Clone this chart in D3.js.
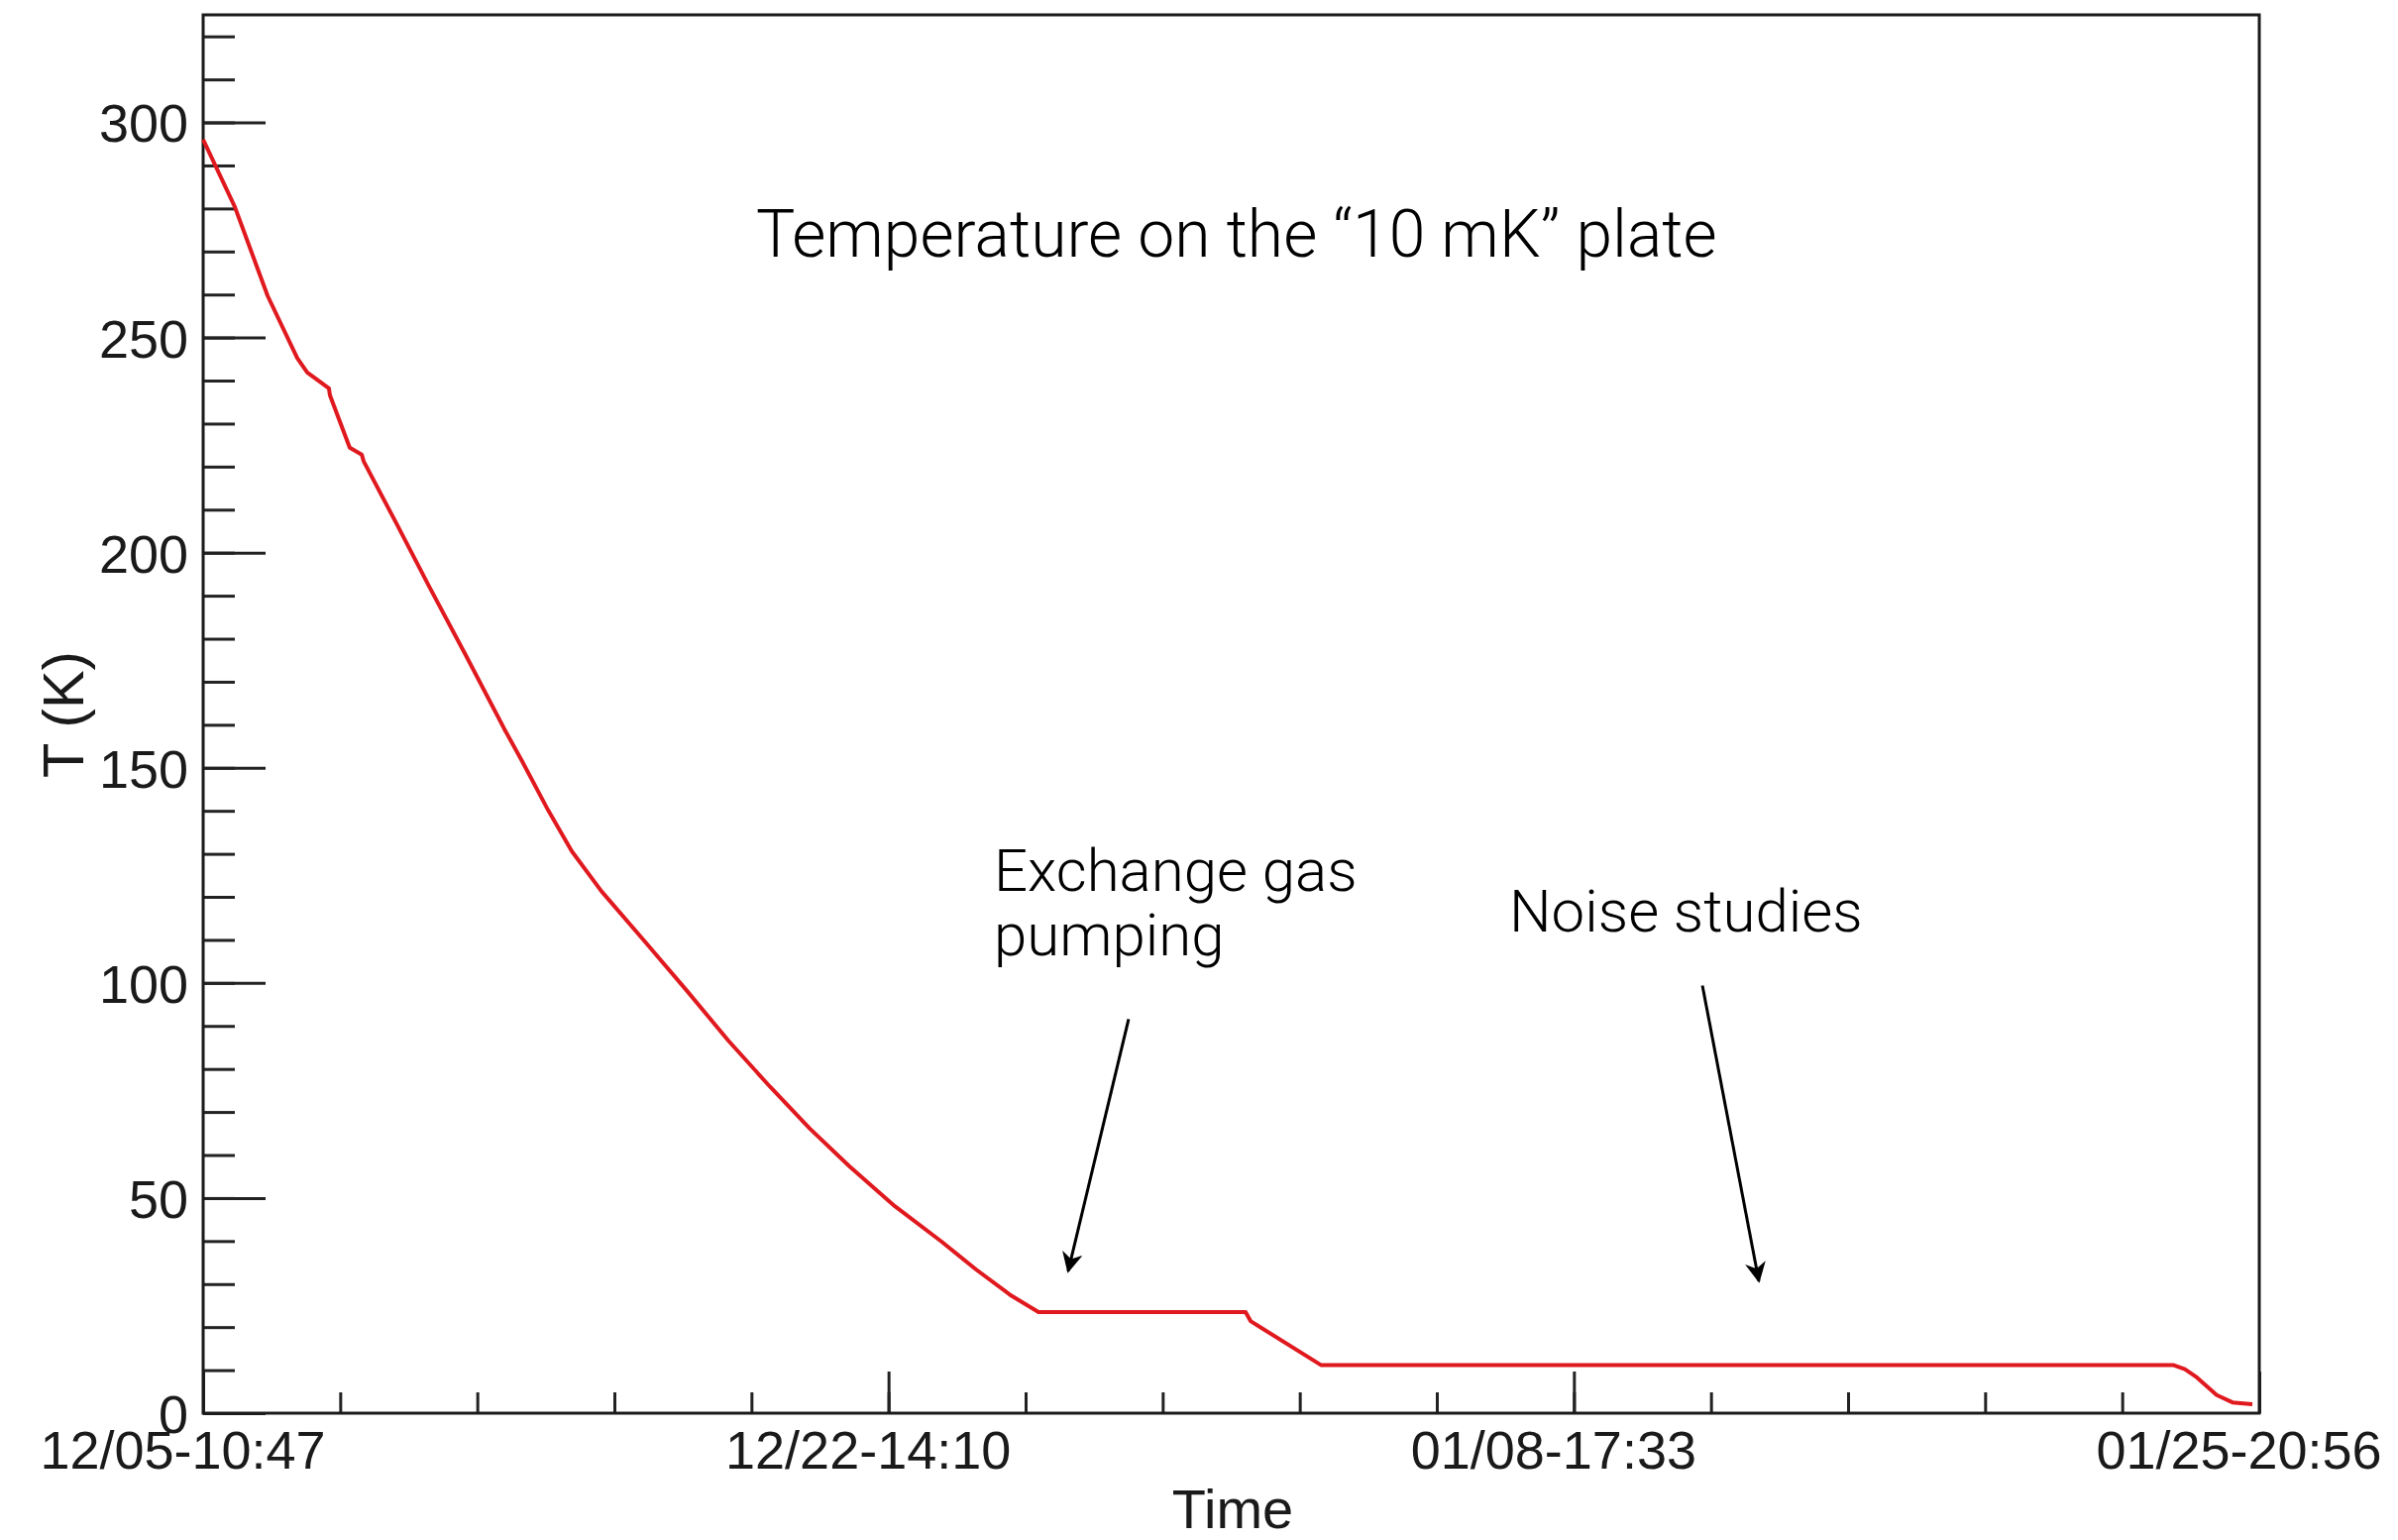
<!DOCTYPE html>
<html>
<head>
<meta charset="utf-8">
<script src="https://cdn.jsdelivr.net/npm/d3@7"></script>
<style>
  body { margin: 0; background: #fff; }
  text { font-family: "Liberation Sans", Arial, sans-serif; fill: #1a1a1a; }
  .note { font-family: Roboto, "Open Sans", sans-serif; font-weight: 300; fill: #000; }
</style>
</head>
<body>
<svg id="chart" width="2420" height="1554"></svg>
<script>
// start of the run, hours elapsed since then, plate temperature in K
const startTime = new Date(2014, 11, 5, 10, 47)
const hoursElapsed = [0, 19, 38.7, 56.5, 62.5, 75.5, 76.1, 88, 95.2, 96.4, 116, 135.6, 157.6,
  180.8, 191.5, 207, 221.3, 239.1, 264.7, 290.3, 315.2, 340.2, 364, 387.8, 415.2, 443.1,
  463.9, 484.7, 501.4, 625.7, 628.7, 670.9, 1182.4, 1189.5, 1196.7, 1208.6, 1218.1, 1230]
const tempK = [296, 280.4, 259.7, 245.2, 241.9, 238.2, 236.6, 224.4, 222.8, 221.2, 206.8, 192.2, 176.2,
  159, 151.5, 140.2, 130.6, 121.3, 109.8, 98.2, 86.6, 75.9, 66.2, 57.4, 48.1, 39.9,
  33.4, 27.4, 23.5, 23.5, 21.4, 11.2, 11.2, 10.2, 8.3, 4.2, 2.5, 2.1]

// axis layout: 3 labelled divisions of 17d 3h23m, 5 minor steps each
const majorStepMin = (17 * 24 + 3) * 60 + 23
const nMajor = 3, nMinorPerMajor = 5
const yMajorTicks = [0, 50, 100, 150, 200, 250, 300]
const yMinorTicks = d3.range(0, 330, 10)
const yMax = 325

// annotations (hours, K)
const notes = [
  { lines: ["Exchange gas", "pumping"], h: 474.6, T: 121.3 },
  { lines: ["Noise studies"], h: 783.9, T: 111.9 }
]
const arrows = [
  { h0: 555.5, T0: 91.6, h1: 519.2, T1: 33.0 },
  { h0: 899.9, T0: 99.4, h1: 933.8, T1: 30.7 }
]

const width = 2420, height = 1554
const pLeft = 205, pRight = 2280, pTop = 15, pBottom = 1426

const addH = h => new Date(startTime.getTime() + h * 3600e3)
const endTime = new Date(startTime.getTime() + nMajor * majorStepMin * 60e3)

const x = d3.scaleTime().domain([startTime, endTime]).range([pLeft, pRight])
const y = d3.scaleLinear().domain([0, yMax]).range([pBottom, pTop])

const svg = d3.select("#chart")

const majorX = d3.range(nMajor + 1).map(i => new Date(startTime.getTime() + i * majorStepMin * 60e3))
const minorX = d3.range(nMajor * nMinorPerMajor + 1)
  .map(i => new Date(startTime.getTime() + i * majorStepMin * 60e3 / nMinorPerMajor))

// y axis
svg.append("g")
    .attr("transform", "translate(" + pLeft + ",0)")
    .call(d3.axisLeft(y).tickValues(yMinorTicks.filter(v => v <= yMax)).tickSize(-32).tickFormat(""))
    .call(g => g.select(".domain").remove())
    .selectAll("line").attr("stroke", "#222").attr("stroke-width", 3)

svg.append("g")
    .attr("transform", "translate(" + pLeft + ",0)")
    .call(d3.axisLeft(y).tickValues(yMajorTicks).tickSize(-63).tickPadding(15))
    .call(g => g.select(".domain").remove())
    .call(g => g.selectAll("line").attr("stroke", "#222").attr("stroke-width", 3))
    .call(g => g.selectAll("text")
        .attr("font-size", 54)
        .attr("font-family", "Liberation Sans, Arial, sans-serif")
        .attr("fill", "#222")
        .attr("dy", "0.36em"))

// x axis
svg.append("g")
    .attr("transform", "translate(0," + pBottom + ")")
    .call(d3.axisBottom(x).tickValues(minorX).tickSize(-21).tickFormat(""))
    .call(g => g.select(".domain").remove())
    .selectAll("line").attr("stroke", "#222").attr("stroke-width", 3)

svg.append("g")
    .attr("transform", "translate(0," + pBottom + ")")
    .call(d3.axisBottom(x).tickValues(majorX).tickSize(-42).tickPadding(18)
      .tickFormat(d3.timeFormat("%m/%d-%H:%M")))
    .call(g => g.select(".domain").remove())
    .call(g => g.selectAll("line").attr("stroke", "#222").attr("stroke-width", 3))
    .call(g => g.selectAll("text")
        .attr("font-size", 54)
        .attr("font-family", "Liberation Sans, Arial, sans-serif")
        .attr("fill", "#222")
        .attr("dx", -21))

// frame
svg.append("rect")
    .attr("x", pLeft).attr("y", pTop)
    .attr("width", pRight - pLeft).attr("height", pBottom - pTop)
    .attr("fill", "none").attr("stroke", "#1a1a1a").attr("stroke-width", 3)

// axis titles
svg.append("text")
    .attr("transform", "translate(84,721) rotate(-90)")
    .attr("text-anchor", "middle")
    .attr("font-size", 58)
    .attr("fill", "#222")
    .text("T (K)")

svg.append("text")
    .attr("x", 1244).attr("y", 1542)
    .attr("text-anchor", "middle")
    .attr("font-size", 56)
    .attr("fill", "#222")
    .text("Time")

// temperature curve
const pts = hoursElapsed.map((h, i) => ({ t: addH(h), T: tempK[i] }))
svg.append("path")
    .datum(pts)
    .attr("fill", "none")
    .attr("stroke", "#e0191f")
    .attr("stroke-width", 4)
    .attr("stroke-linejoin", "round")
    .attr("d", d3.line().x(d => x(d.t)).y(d => y(d.T)))

// title
svg.append("text")
    .attr("class", "note")
    .attr("x", 763).attr("y", 259)
    .attr("font-size", 66)
    .text("Temperature on the \u201c10 mK\u201d plate")

// notes
notes.forEach(n => {
  const t = svg.append("text")
      .attr("class", "note")
      .attr("font-size", 60)
      .attr("x", x(addH(n.h)))
      .attr("y", y(n.T))
  n.lines.forEach((l, i) => {
    t.append("tspan").attr("x", x(addH(n.h))).attr("dy", i ? 65 : 0).text(l)
  })
})

// arrows
svg.append("defs").append("marker")
    .attr("id", "head")
    .attr("viewBox", "0 0 10 10")
    .attr("refX", 9).attr("refY", 5)
    .attr("markerWidth", 7).attr("markerHeight", 7)
    .attr("markerUnits", "strokeWidth")
    .attr("orient", "auto")
  .append("path")
    .attr("d", "M0,0 L10,5 L0,10 L3,5 Z")
    .attr("fill", "#000")

svg.selectAll(".arrow").data(arrows).enter().append("line")
    .attr("class", "arrow")
    .attr("x1", d => x(addH(d.h0))).attr("y1", d => y(d.T0))
    .attr("x2", d => x(addH(d.h1))).attr("y2", d => y(d.T1))
    .attr("stroke", "#000")
    .attr("stroke-width", 3)
    .attr("marker-end", "url(#head)")
</script>
</body>
</html>
